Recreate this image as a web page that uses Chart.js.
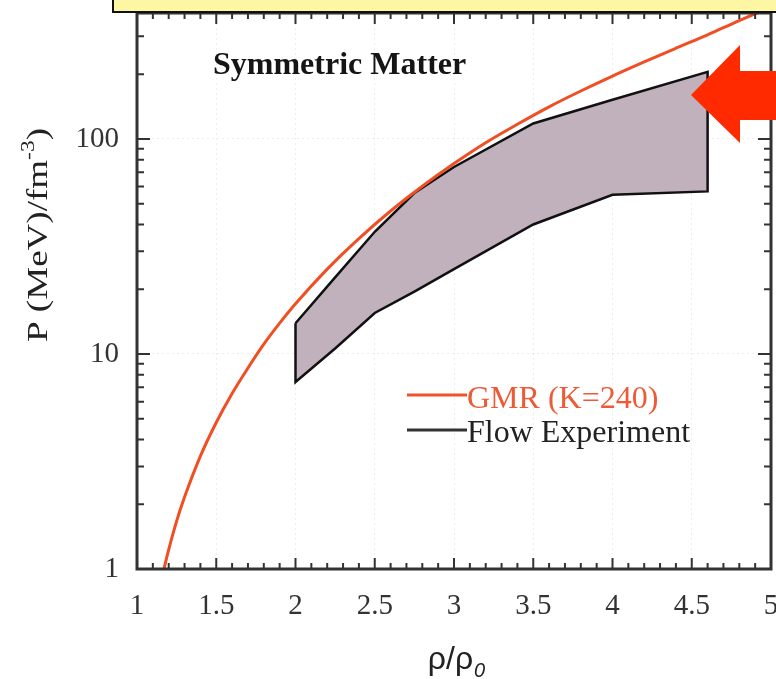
<!DOCTYPE html>
<html>
<head>
<meta charset="utf-8">
<script src="https://cdn.jsdelivr.net/npm/chart.js@4.4.1/dist/chart.umd.min.js"></script>
<style>
  html, body { margin: 0; padding: 0; background: #fff; }
</style>
</head>
<body>
<canvas id="eosChart" width="776" height="679"></canvas>
<script>
// GMR (K=240) pressure curve, P in MeV/fm^3 vs rho/rho0
var gmrRho = [1.17, 1.2, 1.25, 1.3, 1.4, 1.5, 1.6, 1.7, 1.8, 1.9, 2.0, 2.2, 2.4, 2.6, 2.8, 3.0, 3.2, 3.4, 3.6, 3.8, 4.0, 4.2, 4.4, 4.6, 4.8, 5.0];
var gmrP   = [1.0, 1.23, 1.67, 2.16, 3.35, 4.8, 6.55, 8.6, 11.1, 13.9, 17.1, 24.8, 34.4, 46.2, 60.2, 76.8, 96, 117, 141, 167, 196, 228, 264, 305, 355, 410];

// flow experiment band (upper and lower edges)
var flowRho   = [2.0, 2.25, 2.5, 2.75, 3.0, 3.5, 4.0, 4.6];
var flowUpper = [13.9, 22.7, 37, 56, 74, 118, 152, 205];
var flowLower = [7.4, 10.6, 15.5, 19.5, 24.8, 40, 55, 57];

var xTickVals = [1, 1.5, 2, 2.5, 3, 3.5, 4, 4.5, 5];
var yTickVals = [1, 10, 100];

var serif = '"Liberation Serif", "Times New Roman", serif';
var sans = '"Liberation Sans", Arial, sans-serif';

var gmrData = gmrRho.map(function (r, i) { return { x: r, y: gmrP[i] }; });

// closed outline: along the top edge, down the right side, back along the bottom
var bandData = [];
flowRho.forEach(function (r, i) { bandData.push({ x: r, y: flowUpper[i] }); });
for (var i = flowRho.length - 1; i >= 0; i--) bandData.push({ x: flowRho[i], y: flowLower[i] });
bandData.push({ x: flowRho[0], y: flowUpper[0] });

var decor = {
  id: 'decor',
  afterDatasetsDraw: function (chart) {
    var ctx = chart.ctx, a = chart.chartArea;
    var xs = chart.scales.x, ys = chart.scales.y;
    ctx.save();

    // inward tick marks on all four sides
    ctx.strokeStyle = '#333';
    ctx.lineWidth = 2;
    ctx.beginPath();
    for (var i = 0; i <= 40; i++) {
      var px = xs.getPixelForValue(1 + i * 0.1);
      var len = (i % 5 === 0) ? 11 : 6;
      ctx.moveTo(px, a.bottom); ctx.lineTo(px, a.bottom - len);
      ctx.moveTo(px, a.top); ctx.lineTo(px, a.top + len);
    }
    for (var d = 1; d <= 100; d *= 10) {
      for (var m = 1; m <= 9; m++) {
        var v = d * m;
        if (v > ys.max) break;
        var py = ys.getPixelForValue(v);
        var l2 = m === 1 ? 13 : 7;
        ctx.moveTo(a.left, py); ctx.lineTo(a.left + l2, py);
        ctx.moveTo(a.right, py); ctx.lineTo(a.right - l2, py);
      }
    }
    ctx.stroke();

    // frame
    ctx.lineWidth = 3;
    ctx.strokeRect(a.left, a.top, a.right - a.left, a.bottom - a.top);

    // panel label
    ctx.fillStyle = '#151515';
    ctx.font = 'bold 32px ' + serif;
    ctx.textBaseline = 'alphabetic';
    ctx.textAlign = 'left';
    ctx.fillText('Symmetric Matter', 213, 74);

    // legend
    ctx.lineWidth = 3;
    ctx.strokeStyle = '#f0522a';
    ctx.beginPath(); ctx.moveTo(407, 395); ctx.lineTo(467, 395); ctx.stroke();
    ctx.strokeStyle = '#333';
    ctx.beginPath(); ctx.moveTo(407, 430); ctx.lineTo(467, 430); ctx.stroke();
    ctx.font = '32px ' + serif;
    ctx.fillStyle = '#ee5a36';
    ctx.fillText('GMR (K=240)', 467, 408);
    ctx.fillStyle = '#222';
    ctx.fillText('Flow Experiment', 467, 442);

    // red arrow pointing at the band
    ctx.fillStyle = '#ff2a00';
    ctx.beginPath();
    ctx.moveTo(691, 95);
    ctx.lineTo(740, 45);
    ctx.lineTo(740, 71);
    ctx.lineTo(776, 71);
    ctx.lineTo(776, 120);
    ctx.lineTo(740, 120);
    ctx.lineTo(740, 143);
    ctx.closePath();
    ctx.fill();

    // yellow banner along the top
    ctx.fillStyle = '#fdf7a4';
    ctx.fillRect(113, -4, 700, 16);
    ctx.strokeStyle = '#111';
    ctx.lineWidth = 2;
    ctx.strokeRect(113, -4, 700, 16);

    // y axis title
    ctx.save();
    ctx.translate(47, 235);
    ctx.rotate(-Math.PI / 2);
    ctx.fillStyle = '#222';
    ctx.font = '30px ' + serif;
    var t1 = 'P (MeV)/fm', t2 = '-3', t3 = ')';
    var w1 = ctx.measureText(t1).width;
    ctx.font = '19px ' + serif;
    var w2 = ctx.measureText(t2).width;
    ctx.font = '30px ' + serif;
    var w3 = ctx.measureText(t3).width;
    var total = w1 + w2 + w3;
    var sx = 214 / total;
    ctx.scale(sx, 1);
    var x0 = -total / 2;
    ctx.fillText(t1, x0, 0);
    ctx.font = '19px ' + serif;
    ctx.fillText(t2, x0 + w1, -13);
    ctx.font = '30px ' + serif;
    ctx.fillText(t3, x0 + w1 + w2, 0);
    ctx.restore();

    // x axis title
    ctx.fillStyle = '#222';
    ctx.font = '32px ' + sans;
    var s1 = '\u03c1/\u03c1';
    var ws1 = ctx.measureText(s1).width;
    ctx.font = 'italic 20px ' + sans;
    var ws2 = ctx.measureText('0').width;
    var sx0 = 456 - (ws1 + ws2) / 2;
    ctx.font = '32px ' + sans;
    ctx.fillText(s1, sx0, 669);
    ctx.font = 'italic 20px ' + sans;
    ctx.fillText('0', sx0 + ws1 + 1, 677);

    ctx.restore();
  }
};

var ctx = document.getElementById('eosChart').getContext('2d');
var myChart = new Chart(ctx, {
  type: 'scatter',
  data: {
    datasets: [{
      label: 'GMR (K=240)',
      data: gmrData,
      showLine: true,
      borderColor: '#f04e23',
      borderWidth: 3,
      pointRadius: 0,
      cubicInterpolationMode: 'monotone',
      fill: false
    }, {
      label: 'Flow Experiment',
      data: bandData,
      showLine: true,
      borderColor: '#111',
      borderWidth: 2.5,
      backgroundColor: '#c1b1bd',
      pointRadius: 0,
      tension: 0,
      fill: 'shape'
    }]
  },
  options: {
    responsive: false,
    animation: false,
    layout: { padding: { top: 13, right: 5, left: 0, bottom: 0 } },
    plugins: {
      legend: { display: false },
      tooltip: { enabled: false }
    },
    scales: {
      x: {
        type: 'linear',
        min: 1,
        max: 5,
        afterBuildTicks: function (scale) {
          scale.ticks = xTickVals.map(function (v) { return { value: v }; });
        },
        ticks: {
          autoSkip: false,
          maxRotation: 0,
          padding: 20,
          color: '#333',
          font: { family: serif, size: 29 },
          callback: function (v) { return String(v); }
        },
        grid: {
          drawTicks: false,
          color: function (c) {
            return (c.tick && c.tick.value > 1 && c.tick.value < 5) ? 'rgba(0,0,0,0.07)' : 'transparent';
          }
        },
        border: { display: false, dash: [2, 3] },
        afterFit: function (scale) {
          scale.height = 110;
          scale.paddingLeft = 0;
          scale.paddingRight = 0;
        }
      },
      y: {
        type: 'logarithmic',
        min: 1,
        max: 385,
        afterBuildTicks: function (scale) {
          scale.ticks = yTickVals.map(function (v) { return { value: v }; });
        },
        ticks: {
          padding: 18,
          color: '#333',
          font: { family: serif, size: 29 },
          callback: function (v) { return String(v); }
        },
        grid: {
          drawTicks: false,
          color: function (c) {
            return (c.tick && c.tick.value > 1) ? 'rgba(0,0,0,0.07)' : 'transparent';
          }
        },
        border: { display: false, dash: [2, 3] },
        afterFit: function (scale) {
          scale.width = 137;
          scale.paddingTop = 0;
          scale.paddingBottom = 0;
        }
      }
    }
  },
  plugins: [decor]
});
</script>
</body>
</html>
